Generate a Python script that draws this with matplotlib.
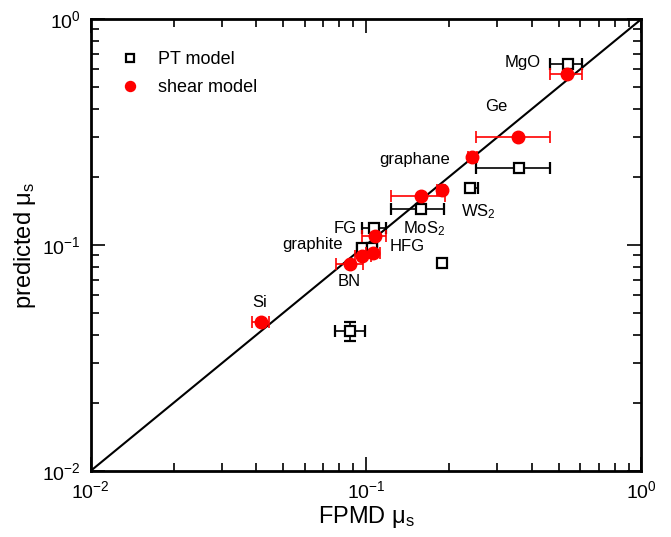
import matplotlib
matplotlib.use("Agg")
import matplotlib.pyplot as plt
import numpy as np

plt.rcParams["font.family"] = ["Liberation Sans", "DejaVu Sans"]
plt.rcParams["mathtext.fontset"] = "custom"
plt.rcParams["mathtext.rm"] = "Liberation Sans"
plt.rcParams["mathtext.it"] = "Liberation Sans:italic"

# PT model (open squares)
pt_x = [0.540, 0.358, 0.239, 0.158, 0.107, 0.097, 0.105, 0.188, 0.0878]
pt_y = [0.630, 0.220, 0.178, 0.145, 0.119, 0.097, 0.097, 0.0835, 0.0416]
pt_xlo = [0.465, 0.251, 0.230, 0.123, 0.0968, 0.093, 0.101, 0.188, 0.0771]
pt_xhi = [0.610, 0.466, 0.255, 0.192, 0.118, 0.101, 0.110, 0.188, 0.099]
pt_ylo = [0.630, 0.220, 0.178, 0.145, 0.119, 0.097, 0.097, 0.0835, 0.0376]
pt_yhi = [0.630, 0.220, 0.178, 0.145, 0.119, 0.097, 0.097, 0.0835, 0.0455]

# shear model (red circles)
sh_x = [0.537, 0.357, 0.243, 0.188, 0.158, 0.1074, 0.106, 0.097, 0.0874, 0.0415]
sh_y = [0.573, 0.302, 0.245, 0.176, 0.165, 0.110, 0.092, 0.089, 0.0824, 0.0458]
sh_xlo = [0.465, 0.251, 0.234, 0.181, 0.123, 0.0968, 0.100, 0.091, 0.0775, 0.0384]
sh_xhi = [0.610, 0.466, 0.253, 0.194, 0.193, 0.118, 0.112, 0.104, 0.0976, 0.0445]

labels = ["MgO", "Ge", "graphane", "WS$_2$", "MoS$_2$", "FG", "HFG", "graphite", "BN", "Si"]
lab_x = [0.371, 0.296, 0.150, 0.255, 0.163, 0.0838, 0.1405, 0.0641, 0.0866, 0.0412]
lab_y = [0.645, 0.408, 0.238, 0.140, 0.1178, 0.1178, 0.098, 0.101, 0.0686, 0.0559]

fig = plt.figure(figsize=(6.71, 5.37), dpi=100)
ax = fig.add_axes([0.135, 0.123, 0.821, 0.8416])

ax.plot([0.01, 1], [0.01, 1], color="black", lw=1.5, zorder=1)

pt_x = np.array(pt_x); pt_y = np.array(pt_y)
sh_x = np.array(sh_x); sh_y = np.array(sh_y)

ax.errorbar(pt_x, pt_y,
            xerr=[pt_x - np.array(pt_xlo), np.array(pt_xhi) - pt_x],
            yerr=[pt_y - np.array(pt_ylo), np.array(pt_yhi) - pt_y],
            fmt="s", mfc="white", mec="black", mew=1.6, ms=6.5,
            ecolor="black", elinewidth=1.2, capsize=4, capthick=1.2,
            zorder=3, label="PT model")
ax.errorbar(sh_x, sh_y,
            xerr=[sh_x - np.array(sh_xlo), np.array(sh_xhi) - sh_x],
            fmt="o", mfc="red", mec="red", ms=9,
            ecolor="red", elinewidth=1.2, capsize=4, capthick=1.2,
            zorder=4, label="shear model")

for t, x, y in zip(labels, lab_x, lab_y):
    ax.text(x, y, t, fontsize=12, ha="center", va="center")

ax.set_xscale("log")
ax.set_yscale("log")
ax.set_xlim(0.01, 1)
ax.set_ylim(0.01, 1)
ax.set_xlabel("FPMD μ$_\\mathregular{s}$", fontsize=17, labelpad=1)
ax.set_ylabel("predicted μ$_\\mathregular{s}$", fontsize=17, labelpad=3)

ax.tick_params(which="both", direction="in", top=True, right=True, labelsize=14)
ax.tick_params(which="major", length=10, width=1.2, pad=7)
ax.tick_params(which="minor", length=6, width=1.2)
for s in ax.spines.values():
    s.set_linewidth(2)

h, l = ax.get_legend_handles_labels()
h = [hh[0] for hh in h]
leg = ax.legend(h, l, loc="upper left", bbox_to_anchor=(0.055, 0.929),
                frameon=False, fontsize=13, markerscale=0.8,
                borderaxespad=0, borderpad=0, handlelength=1.0,
                handletextpad=1.05, labelspacing=0.62)

fig.savefig("out.png", dpi=100)
